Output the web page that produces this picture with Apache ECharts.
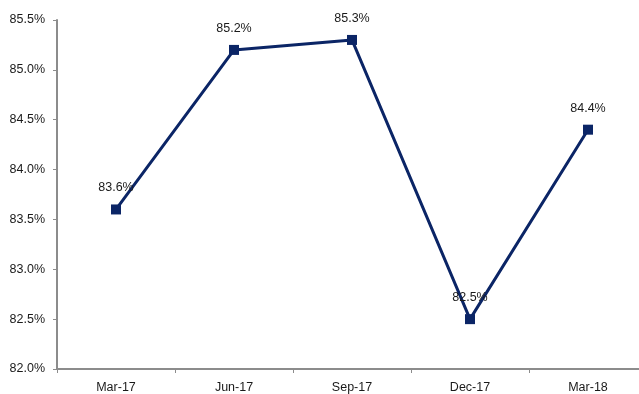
<!DOCTYPE html>
<html>
<head>
<meta charset="utf-8">
<script src="https://cdn.jsdelivr.net/npm/echarts@6/dist/echarts.min.js"></script>
<style>
  html, body { margin: 0; padding: 0; background: #ffffff; overflow: hidden; }
  /* canvas is wider than the view: the last category band runs past the right edge */
  #chart { width: 660px; height: 394px; }
</style>
</head>
<body>
<div id="chart"></div>
<script>
// Quarterly ratio, percent
const quarters = ['Mar-17', 'Jun-17', 'Sep-17', 'Dec-17', 'Mar-18'];
const ratioValues = [83.6, 85.2, 85.3, 82.5, 84.4];

const FONT = '"Liberation Sans", Arial, sans-serif';
const FONT_SIZE = 12.5;
const AXIS_GRAY = '#8c8c8c';
const NAVY = '#0b2566';

const chart = echarts.init(document.getElementById('chart'), null, { renderer: 'canvas' });

chart.setOption({
  animation: false,
  backgroundColor: '#ffffff',
  grid: { left: 57, top: 20, width: 590, height: 349, containLabel: false },
  xAxis: {
    type: 'category',
    data: quarters,
    boundaryGap: true,
    axisLine: { lineStyle: { color: AXIS_GRAY, width: 2 } },
    axisTick: { show: true, length: 4, lineStyle: { color: AXIS_GRAY, width: 1 } },
    axisLabel: { color: '#1a1a1a', fontFamily: FONT, fontSize: FONT_SIZE, margin: 12 },
    splitLine: { show: false }
  },
  yAxis: {
    type: 'value',
    min: 82.0,
    max: 85.5,
    interval: 0.5,
    axisLine: { show: true, lineStyle: { color: AXIS_GRAY, width: 2 } },
    axisTick: { show: true, length: 4, lineStyle: { color: AXIS_GRAY, width: 1 } },
    axisLabel: {
      color: '#1a1a1a', fontFamily: FONT, fontSize: FONT_SIZE, margin: 12,
      formatter: v => v.toFixed(1) + '%'
    },
    splitLine: { show: false }
  },
  series: [{
    type: 'line',
    data: ratioValues,
    symbol: 'rect',
    symbolSize: 10,
    lineStyle: { color: NAVY, width: 3 },
    itemStyle: { color: NAVY },
    label: {
      show: true,
      position: 'top',
      distance: 10,
      color: '#1a1a1a',
      fontFamily: FONT,
      fontSize: FONT_SIZE,
      formatter: p => p.value.toFixed(1) + '%'
    }
  }]
});
</script>
</body>
</html>
